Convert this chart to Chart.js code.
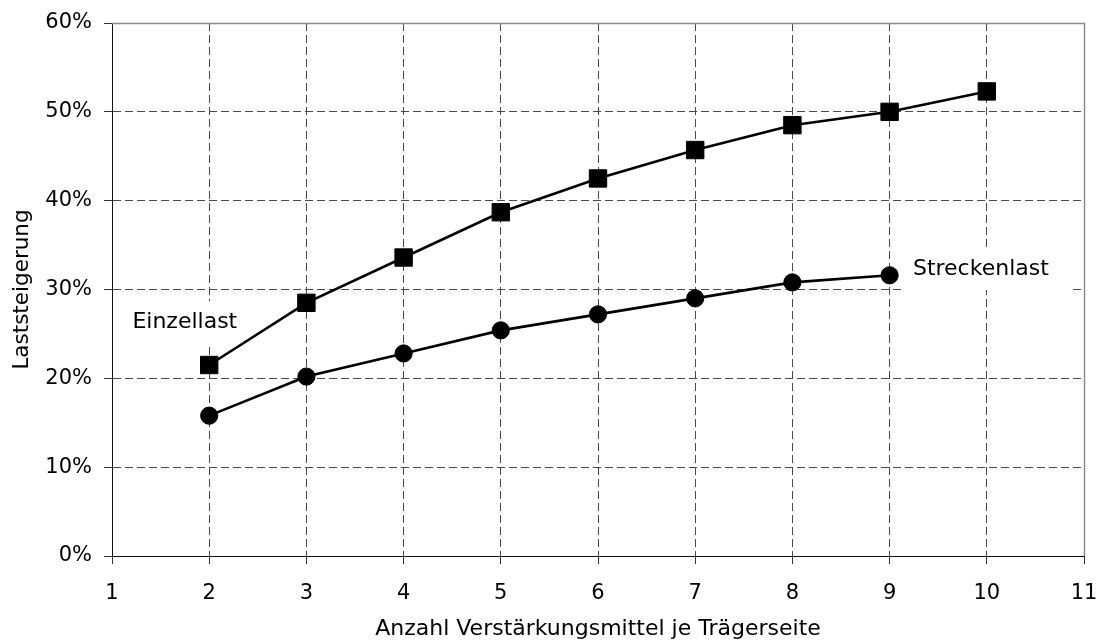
<!DOCTYPE html>
<html>
<head>
<meta charset="utf-8">
<script src="https://cdn.jsdelivr.net/npm/chart.js@4/dist/chart.umd.min.js"></script>
<style>
  html, body { margin: 0; padding: 0; background: #fff; }
  #wrap { width: 1099px; height: 642px; }
</style>
</head>
<body>
<div id="wrap"><canvas id="c" width="1099" height="642"></canvas></div>
<script>
// ---- data ----
const einzelX = [2, 3, 4, 5, 6, 7, 8, 9, 10];
const einzelY = [21.5, 28.5, 33.6, 38.7, 42.5, 45.7, 48.5, 50.0, 52.3];
const streckeX = [2, 3, 4, 5, 6, 7, 8, 9];
const streckeY = [15.8, 20.2, 22.8, 25.4, 27.2, 29.0, 30.8, 31.6];
const seriesNames = ['Einzellast', 'Streckenlast'];
const xTicks = [1, 2, 3, 4, 5, 6, 7, 8, 9, 10, 11];
const yTicks = [0, 10, 20, 30, 40, 50, 60];
const xTitle = 'Anzahl Verstärkungsmittel je Trägerseite';
const yTitle = 'Laststeigerung';

// ---- text annotations (anchored in data space) ----
const annotations = [
  { text: seriesNames[0], x: 1.21, y: 26.3 },
  { text: seriesNames[1], x: 9.24, y: 32.3 }
];

const FONT = 'DejaVu Sans';
const FS = 21;
const FS_TEXT = 22;

const toPts = (xs, ys) => xs.map((x, i) => ({ x: x, y: ys[i] }));

const labelPlugin = {
  id: 'labels',
  beforeDatasetsDraw(chart) {
    const { ctx, scales } = chart;
    ctx.save();
    ctx.font = FS_TEXT + 'px "' + FONT + '"';
    ctx.textBaseline = 'middle';
    ctx.textAlign = 'left';
    annotations.forEach(a => {
      const px = scales.x.getPixelForValue(a.x);
      const py = scales.y.getPixelForValue(a.y);
      const w = ctx.measureText(a.text).width;
      ctx.fillStyle = '#fff';
      ctx.fillRect(px - 8, py - 21, w + 30, 42);
      ctx.fillStyle = '#000';
      ctx.fillText(a.text, px, py);
    });
    ctx.restore();
  }
};

const framePlugin = {
  id: 'frame',
  afterDatasetsDraw(chart) {
    const { ctx, chartArea: a } = chart;
    ctx.save();
    ctx.strokeStyle = '#8c8c8c';
    ctx.lineWidth = 1.5;
    ctx.beginPath();
    ctx.moveTo(a.left, a.top + 0.5);
    ctx.lineTo(a.right + 0.5, a.top + 0.5);
    ctx.lineTo(a.right + 0.5, a.bottom);
    ctx.stroke();
    ctx.restore();
  }
};

Chart.defaults.font.family = FONT;
Chart.defaults.font.size = FS;
Chart.defaults.color = '#000';

new Chart(document.getElementById('c'), {
  type: 'line',
  data: {
    datasets: [
      {
        label: seriesNames[0],
        data: toPts(einzelX, einzelY),
        borderColor: '#000',
        backgroundColor: '#000',
        borderWidth: 2.6,
        pointStyle: 'rect',
        pointRadius: 12.3,
        pointBorderWidth: 1,
        pointBorderColor: '#000',
        pointBackgroundColor: '#000',
        tension: 0
      },
      {
        label: seriesNames[1],
        data: toPts(streckeX, streckeY),
        borderColor: '#000',
        backgroundColor: '#000',
        borderWidth: 2.6,
        pointStyle: 'circle',
        pointRadius: 8.6,
        pointBorderWidth: 1,
        pointBorderColor: '#000',
        pointBackgroundColor: '#000',
        tension: 0
      }
    ]
  },
  options: {
    responsive: false,
    animation: false,
    events: [],
    layout: { padding: { top: 23, right: 15, bottom: 0, left: 0 } },
    plugins: { legend: { display: false }, tooltip: { enabled: false } },
    scales: {
      x: {
        type: 'linear',
        min: xTicks[0],
        max: xTicks[xTicks.length - 1],
        afterBuildTicks(scale) { scale.ticks = xTicks.map(v => ({ value: v })); },
        afterFit(scale) { scale.height = 86; scale.paddingLeft = 0; scale.paddingRight = 0; },
        ticks: { padding: 17, color: '#000', font: { size: FS } },
        grid: { color: '#4a4a4a', lineWidth: 1, tickLength: 8, tickColor: '#333', tickWidth: 1, tickBorderDash: [] },
        border: { display: true, color: '#111', width: 1, dash: [8, 4] },
        title: { display: true, text: xTitle, color: '#000', font: { size: FS_TEXT }, padding: { top: 0, bottom: 0 } }
      },
      y: {
        type: 'linear',
        min: yTicks[0],
        max: yTicks[yTicks.length - 1],
        afterBuildTicks(scale) { scale.ticks = yTicks.map(v => ({ value: v })); },
        afterFit(scale) { scale.width = 112; scale.paddingTop = 0; scale.paddingBottom = 0; },
        ticks: { padding: 12, color: '#000', font: { size: FS }, callback: v => v + '%' },
        grid: { color: '#4a4a4a', lineWidth: 1, tickLength: 8, tickColor: '#333', tickWidth: 1, tickBorderDash: [] },
        border: { display: true, color: '#111', width: 1, dash: [8, 4] },
        title: { display: true, text: yTitle, color: '#000', font: { size: 21.5 }, padding: { top: 10, bottom: 0 } }
      }
    }
  },
  plugins: [labelPlugin, framePlugin]
});
</script>
</body>
</html>
